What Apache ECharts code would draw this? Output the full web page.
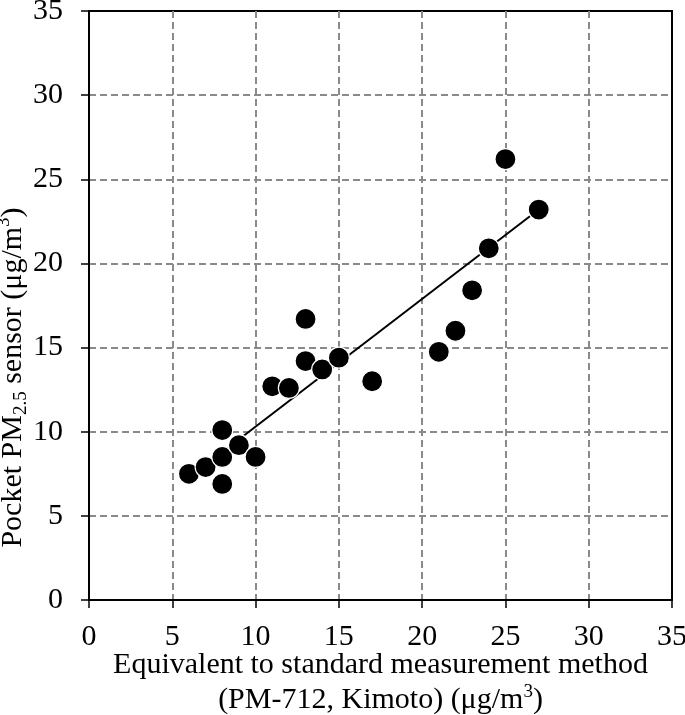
<!DOCTYPE html>
<html>
<head>
<meta charset="utf-8">
<title>Pocket PM2.5 sensor vs PM-712</title>
<script src="https://cdn.jsdelivr.net/npm/echarts@6/dist/echarts.min.js"></script>
<style>
  html, body { margin: 0; padding: 0; background: #fff; }
  #chart { width: 685px; height: 715px; }
</style>
</head>
<body>
<div id="chart"></div>
<script>
// reference values (x: PM-712, y: pocket sensor), ug/m3
const refX = [6, 7, 8, 8, 8, 9, 10, 11, 12, 13, 13, 14, 15, 17, 21, 22, 23, 24, 25, 27]
const sensorY = [7.5, 7.9, 8.5, 10.1, 6.9, 9.2, 8.5, 12.7, 12.6, 16.7, 14.2, 13.7, 14.4, 13.0, 14.75, 16.0, 18.4, 20.9, 26.2, 23.2]
// trend line as drawn in the figure (start / end)
const trendX = [6, 27]
const trendY = [7.26, 23.2]
const axisTicks = [0, 5, 10, 15, 20, 25, 30, 35]

const font = 'Liberation Serif'

const chart = echarts.init(document.getElementById('chart'))

const axisCommon = {
  type: 'value',
  min: axisTicks[0],
  max: axisTicks[axisTicks.length - 1],
  interval: axisTicks[1] - axisTicks[0],
  nameMoveOverlap: false,
  axisLine: { show: true, lineStyle: { color: '#000', width: 2 } },
  axisTick: { show: true, length: 8, lineStyle: { color: '#000', width: 1.5 } },
  axisLabel: { color: '#000', fontFamily: font, fontSize: 30 },
  splitLine: {
    show: true,
    showMinLine: false,
    showMaxLine: false,
    lineStyle: { color: '#8a8a8a', width: 2, type: [7, 4] },
  },
}

const option = {
  backgroundColor: '#fff',
  animation: false,
  grid: {
    left: 89,
    right: 13,
    top: 11,
    bottom: 115,
    outerBoundsMode: 'none',
    containLabel: false,
    show: true,
    borderColor: '#000',
    borderWidth: 2,
  },
  xAxis: {
    ...axisCommon,
    axisLabel: { ...axisCommon.axisLabel, margin: 22 },
    name: '{n|Equivalent to standard measurement method}\n{n|(PM-712, Kimoto) (μg/m}{sup|3}{n|)}',
    nameLocation: 'middle',
    nameGap: 48,
    nameTextStyle: {
      color: '#000',
      fontFamily: font,
      fontSize: 30,
      rich: {
        n: { fontFamily: font, fontSize: 30, lineHeight: 35, color: '#000' },
        sup: { fontFamily: font, fontSize: 19, lineHeight: 24, verticalAlign: 'top', color: '#000' },
      },
    },
  },
  yAxis: {
    ...axisCommon,
    axisLabel: { ...axisCommon.axisLabel, margin: 26 },
    name: '{n|Pocket PM}{sub|2.5}{n| sensor (μg/m}{sup|3}{n|)}',
    nameLocation: 'middle',
    nameGap: 58,
    nameRotate: 90,
    nameTextStyle: {
      color: '#000',
      fontFamily: font,
      fontSize: 30,
      padding: [0, 144, 0, 0],
      rich: {
        n: { fontFamily: font, fontSize: 30, lineHeight: 36, color: '#000' },
        sub: { fontFamily: font, fontSize: 19, lineHeight: 19, verticalAlign: 'bottom', color: '#000' },
        sup: { fontFamily: font, fontSize: 19, lineHeight: 23, verticalAlign: 'top', color: '#000' },
      },
    },
  },
  series: [
    {
      name: 'trend',
      type: 'line',
      data: trendX.map((x, i) => [x, trendY[i]]),
      symbol: 'none',
      lineStyle: { color: '#000', width: 2 },
      z: 2,
    },
    {
      name: 'data',
      type: 'scatter',
      data: refX.map((x, i) => [x, sensorY[i]]),
      symbolSize: 21,
      itemStyle: { color: '#000', borderColor: '#fff', borderWidth: 1.2, opacity: 1 },
      z: 3,
    },
  ],
}

chart.setOption(option)
</script>
</body>
</html>
